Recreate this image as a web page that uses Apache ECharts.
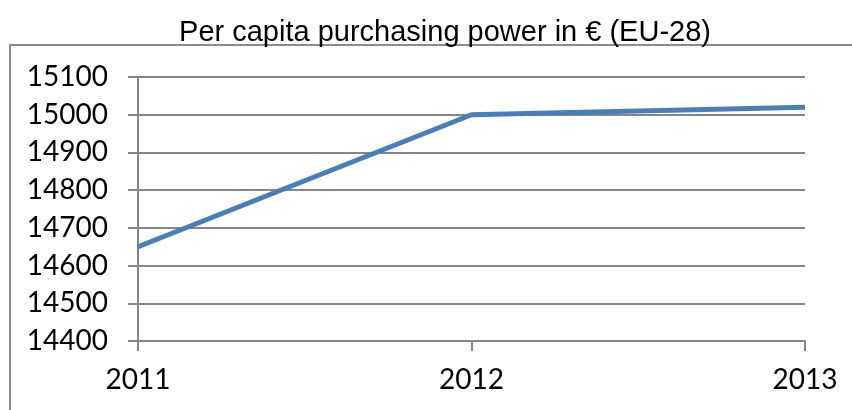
<!DOCTYPE html>
<html><head><meta charset="utf-8">
<script src="https://cdn.jsdelivr.net/npm/echarts@6/dist/echarts.min.js"></script>
<style>html,body{margin:0;padding:0;background:#fff}#c{width:852px;height:410px}</style>
</head><body><div id="c"></div>
<script>
const titleText = "Per capita purchasing power in € (EU-28)";
const categories = ["2011", "2012", "2013"];
const values = [14650, 15000, 15020];
const yMin = 14400, yMax = 15100, yStep = 100;

const chart = echarts.init(document.getElementById('c'), null, {renderer: 'canvas'});
const axisGray = '#868686';
chart.setOption({
  animation: false,
  backgroundColor: '#fff',
  title: {
    text: titleText, left: 440, textAlign: 'center', top: 13,
    textStyle: {fontFamily: 'Liberation Sans', fontSize: 29, fontWeight: 'normal', color: '#000'}
  },
  graphic: [{
    type: 'rect', shape: {x: 10, y: 45, width: 860, height: 400}, z: -1,
    style: {fill: 'none', stroke: '#8c8c8c', lineWidth: 2}
  }],
  grid: {left: 138, right: 47, top: 77, bottom: 69},
  xAxis: {
    type: 'category', data: categories, boundaryGap: false,
    axisLine: {lineStyle: {color: axisGray, width: 2}},
    axisTick: {show: true, length: 10, alignWithLabel: true, lineStyle: {color: axisGray, width: 2}},
    axisLabel: {fontFamily: 'Lato', fontSize: 28, color: '#000', margin: 25, showMaxLabel: true, showMinLabel: true},
    splitLine: {show: false}
  },
  yAxis: {
    type: 'value', min: yMin, max: yMax, interval: yStep,
    axisLine: {show: true, lineStyle: {color: axisGray, width: 2}},
    axisTick: {show: true, length: 10, lineStyle: {color: axisGray, width: 2}},
    axisLabel: {fontFamily: 'Lato', fontSize: 28, color: '#000', margin: 30, formatter: v => String(v)},
    splitLine: {show: true, lineStyle: {color: axisGray, width: 2}}
  },
  series: [{
    type: 'line', data: values, symbol: 'none',
    lineStyle: {color: '#4a7ebb', width: 5}
  }]
});
</script></body></html>
